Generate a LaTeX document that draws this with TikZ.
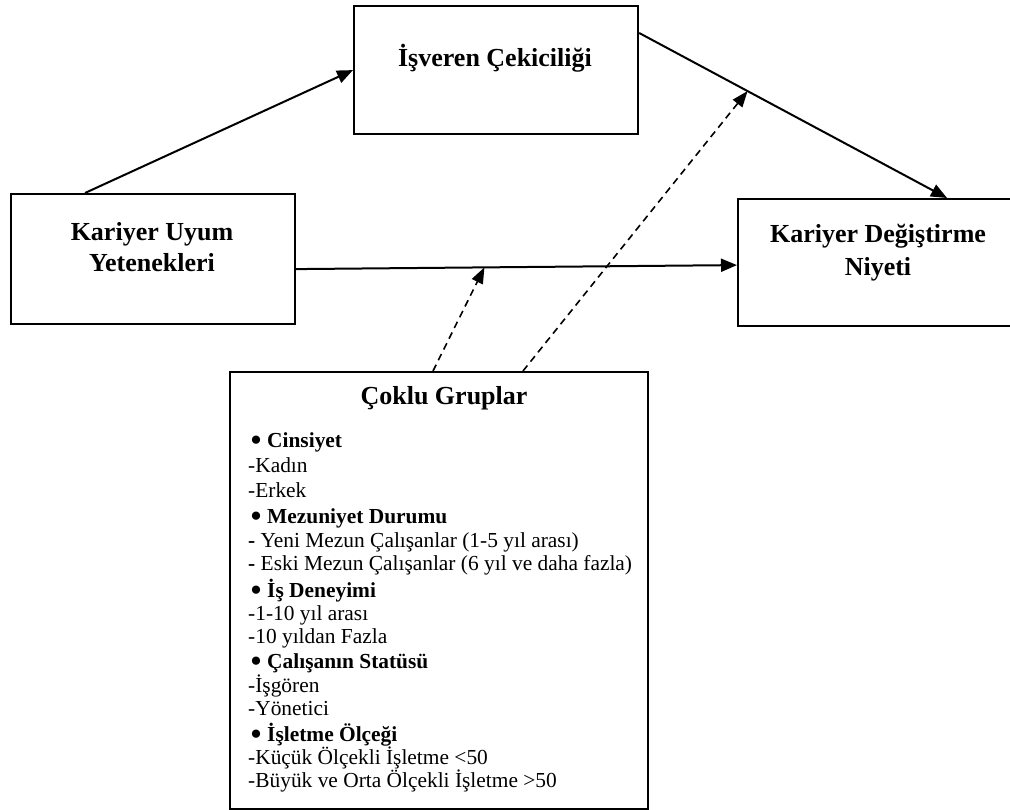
\documentclass[tikz,border=0pt]{standalone}
\usepackage{fontspec}
\setmainfont{Liberation Serif}
\usetikzlibrary{arrows.meta,calc}
\begin{document}
\begin{tikzpicture}[x=1pt,y=-1pt,
  box/.style={draw,line width=2.2pt,rectangle,anchor=north west,inner sep=0pt},
  title/.style={font=\fontsize{26}{31}\selectfont\bfseries,anchor=base,inner sep=0pt},
  item/.style={font=\fontsize{21.4}{24}\selectfont,anchor=base west,inner sep=0pt},
  conn/.style={line width=2pt,-{Triangle[length=16pt,width=13pt]}},
  dconn/.style={line width=1.6pt,dash pattern=on 7pt off 5pt,-{Triangle[length=16pt,width=12pt]}}]
\useasboundingbox[fill=white] (0,0) rectangle (1010,810);
% boxes
\node[box,minimum width=284pt,minimum height=128pt] (isv) at (353,5) {};
\node[box,minimum width=284pt,minimum height=130pt] (kua) at (10,193) {};
\node[box,minimum width=290pt,minimum height=127pt] (kdn) at (737,198) {};
\node[box,minimum width=418pt,minimum height=437pt] (cg) at (229,371) {};
% titles
\node[title] (isvT) at (495,67) {İşveren Çekiciliği};
\node[title] (kuaT1) at (152,241) {Kariyer Uyum};
\node[title] (kuaT2) at (152,272) {Yetenekleri};
\node[title] (kdnT1) at (878,243) {Kariyer Değiştirme};
\node[title] (kdnT2) at (878,276) {Niyeti};
\node[title] (cgT) at (444,405) {Çoklu Gruplar};
% list
\newcommand{\bul}[1]{\makebox[17pt][l]{\raisebox{-4.6pt}[0pt][0pt]{\scalebox{1.6}{•}}}\textbf{#1}}
\node[item] (l1) at (250,447) {\bul{Cinsiyet}};
\node[item] (l2) at (248,472) {-Kadın};
\node[item] (l3) at (248,497) {-Erkek};
\node[item] (l4) at (250,523) {\bul{Mezuniyet Durumu}};
\node[item] (l5) at (248,547) {\textbf{-} Yeni Mezun Çalışanlar (1-5 yıl arası)};
\node[item] (l6) at (248,570) {\textbf{-} Eski Mezun Çalışanlar (6 yıl ve daha fazla)};
\node[item] (l7) at (250,597) {\bul{İş Deneyimi}};
\node[item] (l8) at (248,620) {-1-10 yıl arası};
\node[item] (l9) at (248,643) {-10 yıldan Fazla};
\node[item] (l10) at (250,668) {\bul{Çalışanın Statüsü}};
\node[item] (l11) at (248,692) {-İşgören};
\node[item] (l12) at (248,715) {-Yönetici};
\node[item] (l13) at (250,741) {\bul{İşletme Ölçeği}};
\node[item] (l14) at (248,764) {-Küçük Ölçekli İşletme <50};
\node[item] (l15) at (248,787) {-Büyük ve Orta Ölçekli İşletme >50};
% connector points
\coordinate (a1) at ([xshift=75pt]kua.north west);
\coordinate (h1) at ([yshift=-10pt]kua.east);
\coordinate (h2) at ([yshift=-2.5pt]kdn.west);
\coordinate (s2) at ([yshift=-28pt]isv.north east);
\coordinate (e2) at ([xshift=210pt]kdn.north west);
\coordinate (m1) at ($(h1)!0.427!(h2)$);
\coordinate (m2) at ($(s2)!0.352!(e2)$);
\coordinate (d1) at ([xshift=204pt]cg.north west);
\coordinate (d2) at ([xshift=294pt]cg.north west);
% connectors
\draw[conn] (a1) -- (isv.west);
\draw[conn] (s2) -- (e2);
\draw[conn] (h1) -- (h2);
\draw[dconn] (d1) -- (m1);
\draw[dconn] (d2) -- (m2);
\end{tikzpicture}
\end{document}
